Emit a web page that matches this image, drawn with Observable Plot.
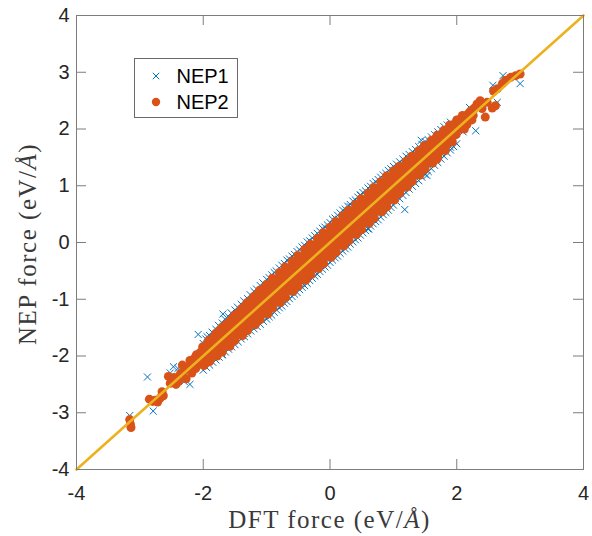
<!DOCTYPE html>
<html>
<head>
<meta charset="utf-8">
<script src="https://cdn.jsdelivr.net/npm/d3@7"></script>
<script src="https://cdn.jsdelivr.net/npm/@observablehq/plot@0.6"></script>
<style>
  html, body { margin: 0; padding: 0; background: #fff; }
</style>
</head>
<body>
<div id="chart"></div>
<script>
// ---- data ----
const seriesNames = ["NEP1", "NEP2"];
const seriesColors = ["#0072BD", "#D95319"];
const lineColor = "#EDB120";
const xTicks = [-4, -2, 0, 2, 4];
const yTicks = [-4, -3, -2, -1, 0, 1, 2, 3, 4];
const diagonal = [-4, 4];
const xTitle = ["DFT force (eV/", "Å", ")"];
const yTitle = ["NEP force (eV/", "Å", ")"];

// NEP1: [DFT force, NEP force] (blue crosses: outliers + visible fringe of the band)
const nep1 = [
  [-3.16,-3.05],[-2.88,-2.37],[-2.79,-2.97],[-2.47,-2.19],[-2.21,-2.50],[-2.08,-1.62],[-1.94,-1.66],
  [-1.69,-1.26],[-1.70,-1.98],[-1.35,-1.60],[-2.52,-2.30],[-2.40,-2.22],[-2.30,-2.45],
  [3.00,2.80],[2.73,2.94],[2.57,2.77],[2.64,2.47],[2.30,1.97],[1.44,1.80],[1.53,1.18],[1.90,1.68],
  [1.18,0.58],[0.61,0.24],[0.32,0.63],[0.48,0.83],[2.20,2.38],[2.10,1.95],
  // upper fringe
  [-2.00,-1.78],[-1.90,-1.64],[-1.80,-1.53],[-1.70,-1.42],[-1.60,-1.31],[-1.50,-1.19],[-1.40,-1.09],
  [-1.30,-0.99],[-1.20,-0.86],[-1.10,-0.76],[-1.00,-0.65],[-0.92,-0.57],[-0.85,-0.50],[-0.76,-0.40],
  [-0.68,-0.31],[-0.60,-0.24],[-0.52,-0.16],[-0.44,-0.08],[-0.36,0.01],[-0.28,0.08],[-0.20,0.16],
  [-0.12,0.25],[-0.04,0.31],[0.04,0.41],[0.12,0.48],[0.20,0.57],[0.28,0.64],[0.36,0.73],[0.44,0.80],
  [0.52,0.88],[0.60,0.96],[0.68,1.04],[0.76,1.11],[0.84,1.19],[0.92,1.27],[1.00,1.34],[1.10,1.42],
  [1.20,1.52],[1.30,1.60],[1.40,1.69],[1.50,1.78],[1.60,1.86],[1.70,1.95],[1.80,2.04],[1.90,2.12],
  [-1.96,-1.70],[-1.86,-1.58],[-1.76,-1.46],[-1.66,-1.35],[-1.56,-1.24],[-1.46,-1.14],[-1.36,-1.03],
  [-1.26,-0.92],[-1.16,-0.82],[-1.06,-0.71],[-0.96,-0.62],[-0.88,-0.53],[-0.80,-0.45],[-0.72,-0.37],
  [-0.64,-0.29],[-0.56,-0.21],[-0.48,-0.13],[-0.40,-0.05],[-0.32,0.03],[-0.24,0.12],[-0.16,0.20],
  [-0.08,0.27],[0.00,0.35],[0.08,0.43],[0.16,0.52],[0.24,0.59],[0.32,0.67],[0.40,0.75],[0.48,0.84],
  [0.56,0.91],[0.64,0.99],[0.72,1.07],[0.80,1.15],[0.88,1.22],[0.96,1.30],[1.05,1.38],[1.15,1.47],
  [1.25,1.55],[1.35,1.64],[1.45,1.73],[1.55,1.81],[1.65,1.90],[1.75,1.99],[1.85,2.07],
  // lower fringe
  [-2.00,-2.25],[-1.90,-2.16],[-1.80,-2.07],[-1.70,-1.97],[-1.60,-1.88],[-1.50,-1.80],[-1.40,-1.70],
  [-1.30,-1.61],[-1.20,-1.52],[-1.10,-1.44],[-1.00,-1.35],[-0.92,-1.28],[-0.84,-1.19],[-0.76,-1.12],
  [-0.68,-1.04],[-0.60,-0.95],[-0.52,-0.88],[-0.44,-0.79],[-0.36,-0.72],[-0.28,-0.63],[-0.20,-0.56],
  [-0.12,-0.47],[-0.04,-0.40],[0.04,-0.31],[0.12,-0.24],[0.20,-0.15],[0.28,-0.08],[0.36,0.01],
  [0.44,0.08],[0.52,0.17],[0.60,0.24],[0.68,0.33],[0.76,0.40],[0.84,0.49],[0.92,0.57],[1.00,0.66],
  [1.10,0.77],[1.20,0.88],[1.30,0.99],[1.40,1.09],[1.50,1.20],[1.60,1.30],[1.70,1.41],[1.80,1.52],
  [1.90,1.63],[2.00,1.74],
  [-1.95,-2.20],[-1.85,-2.11],[-1.75,-2.02],[-1.65,-1.93],[-1.55,-1.84],[-1.45,-1.75],[-1.35,-1.66],
  [-1.25,-1.56],[-1.15,-1.48],[-1.05,-1.39],[-0.96,-1.31],[-0.88,-1.23],[-0.80,-1.15],[-0.72,-1.07],
  [-0.64,-0.99],[-0.56,-0.91],[-0.48,-0.83],[-0.40,-0.76],[-0.32,-0.67],[-0.24,-0.59],[-0.16,-0.51],
  [-0.08,-0.43],[0.00,-0.35],[0.08,-0.27],[0.16,-0.19],[0.24,-0.11],[0.32,-0.03],[0.40,0.05],
  [0.48,0.13],[0.56,0.21],[0.64,0.29],[0.72,0.37],[0.80,0.45],[0.88,0.53],[0.96,0.62],[1.05,0.72],
  [1.15,0.83],[1.25,0.94],[1.35,1.04],[1.45,1.15],[1.55,1.25],[1.65,1.36],[1.75,1.47],[1.85,1.58],
  [1.95,1.69]
];

// NEP2: [DFT force, NEP force] (orange dots)
const nep2 = [
  [-3.16,-3.12],[-3.15,-3.20],[-3.14,-3.26],
  [-2.85,-2.76],[-2.80,-2.80],[-2.76,-2.78],[-2.72,-2.81],[-2.68,-2.74],[-2.65,-2.63],[-2.63,-2.70],
  [-2.55,-2.36],[-2.52,-2.48],[-2.50,-2.44],[-2.46,-2.38],[-2.43,-2.50],[-2.39,-2.45],[-2.36,-2.31],
  [-2.33,-2.16],[-2.30,-2.26],[-2.27,-2.40],[-2.25,-2.19],[-2.21,-2.08],[-2.18,-2.30],[-2.15,-2.05],[-2.16,-2.18],
  [-2.11,-1.98],[-2.09,-2.10],[-2.12,-2.22],
  [-2.01,-1.84],[-1.98,-1.95],[-2.02,-2.06],[-1.99,-2.17],
  [-1.91,-1.72],[-1.89,-1.83],[-1.92,-1.95],[-1.88,-2.06],[-1.90,-2.10],
  [-1.80,-1.60],[-1.82,-1.72],[-1.79,-1.84],[-1.81,-1.95],[-1.78,-2.00],
  [-1.71,-1.50],[-1.69,-1.62],[-1.72,-1.73],[-1.68,-1.85],[-1.70,-1.93],
  [-1.60,-1.40],[-1.62,-1.51],[-1.59,-1.63],[-1.61,-1.74],[-1.58,-1.83],
  [-1.51,-1.28],[-1.49,-1.40],[-1.52,-1.52],[-1.48,-1.63],[-1.50,-1.73],
  [-1.40,-1.17],[-1.42,-1.29],[-1.39,-1.41],[-1.41,-1.53],[-1.38,-1.64],
  [-1.31,-1.06],[-1.29,-1.18],[-1.32,-1.31],[-1.28,-1.43],[-1.30,-1.55],
  [-1.20,-0.95],[-1.22,-1.07],[-1.19,-1.20],[-1.21,-1.33],[-1.18,-1.45],
  [-1.11,-0.84],[-1.09,-0.97],[-1.12,-1.10],[-1.08,-1.23],[-1.10,-1.36],
  [-1.00,-0.74],[-1.02,-0.87],[-0.99,-1.00],[-1.01,-1.13],[-0.98,-1.26],
  [-0.91,-0.63],[-0.89,-0.76],[-0.92,-0.90],[-0.88,-1.03],[-0.90,-1.16],
  [-0.80,-0.53],[-0.82,-0.67],[-0.79,-0.79],[-0.81,-0.94],[-0.78,-1.06],
  [-0.71,-0.43],[-0.69,-0.57],[-0.72,-0.70],[-0.68,-0.83],[-0.70,-0.97],
  [-0.60,-0.33],[-0.62,-0.47],[-0.59,-0.60],[-0.61,-0.74],[-0.58,-0.86],
  [-0.51,-0.23],[-0.49,-0.36],[-0.52,-0.51],[-0.48,-0.63],[-0.50,-0.77],
  [-0.40,-0.12],[-0.42,-0.27],[-0.39,-0.40],[-0.41,-0.54],[-0.38,-0.66],
  [-0.31,-0.03],[-0.29,-0.16],[-0.32,-0.31],[-0.28,-0.43],[-0.30,-0.57],
  [-0.20,0.07],[-0.22,-0.07],[-0.19,-0.19],[-0.21,-0.34],[-0.18,-0.46],
  [-0.11,0.17],[-0.09,0.04],[-0.12,-0.11],[-0.08,-0.23],[-0.10,-0.37],
  [0.00,0.27],[-0.02,0.13],[0.01,0.00],[-0.01,-0.14],[0.02,-0.26],
  [0.09,0.37],[0.11,0.24],[0.08,0.10],[0.12,-0.03],[0.10,-0.17],
  [0.20,0.47],[0.18,0.33],[0.21,0.21],[0.19,0.06],[0.22,-0.06],
  [0.29,0.57],[0.31,0.44],[0.28,0.30],[0.32,0.17],[0.30,0.03],
  [0.40,0.67],[0.38,0.53],[0.41,0.41],[0.39,0.26],[0.42,0.14],
  [0.49,0.77],[0.51,0.64],[0.48,0.50],[0.52,0.37],[0.50,0.23],
  [0.60,0.87],[0.58,0.73],[0.61,0.61],[0.59,0.46],[0.62,0.34],
  [0.69,0.97],[0.71,0.84],[0.68,0.70],[0.72,0.57],[0.70,0.43],
  [0.80,1.07],[0.78,0.93],[0.81,0.81],[0.79,0.66],[0.82,0.54],
  [0.89,1.17],[0.91,1.04],[0.88,0.90],[0.92,0.77],[0.90,0.63],
  [1.00,1.26],[0.98,1.12],[1.01,1.01],[0.99,0.87],[1.02,0.75],
  [1.09,1.34],[1.11,1.22],[1.08,1.09],[1.12,0.98],[1.10,0.87],
  [1.20,1.43],[1.18,1.31],[1.21,1.21],[1.19,1.08],[1.22,0.98],
  [1.29,1.52],[1.31,1.41],[1.28,1.30],[1.32,1.19],[1.30,1.08],
  [1.40,1.62],[1.38,1.50],[1.41,1.41],[1.39,1.28],[1.42,1.19],
  [1.49,1.71],[1.51,1.60],[1.48,1.49],[1.52,1.39],[1.50,1.29],
  [1.60,1.80],[1.58,1.69],[1.61,1.60],[1.59,1.49],[1.62,1.40],
  [1.69,1.89],[1.71,1.80],[1.68,1.69],[1.72,1.59],[1.70,1.51],[1.69,1.47],
  [1.80,1.98],[1.78,1.88],[1.81,1.80],[1.79,1.69],[1.82,1.62],
  [1.89,2.07],[1.91,1.98],[1.88,1.89],[1.92,1.80],[1.93,1.77],
  [2.00,2.16],[1.98,2.06],[2.01,2.00],[1.99,1.90],
  [2.09,2.24],[2.11,2.15],[2.08,2.09],[2.12,2.00],
  [2.06,2.18],[2.01,2.12],[2.15,2.20],[2.19,2.28],[2.22,2.32],[2.24,2.16],[2.27,2.36],
  [2.32,2.44],[2.37,2.50],[2.40,2.36],[2.45,2.21],[2.48,2.47],[2.56,2.37],[2.61,2.41],
  [2.58,2.67],[2.64,2.71],[2.72,2.80],[2.77,2.86],[2.85,2.91],[2.93,2.94],[3.00,2.97],
  [1.80,1.97],[1.72,1.86],
  // points lying between the ones above
  [-2.05,-1.94],[-2.06,-2.04],[-2.04,-2.14],
  [-1.95,-1.80],[-1.96,-1.90],[-1.94,-2.01],[-1.95,-2.11],
  [-1.85,-1.68],[-1.86,-1.79],[-1.84,-1.90],[-1.85,-2.01],
  [-1.75,-1.56],[-1.76,-1.68],[-1.74,-1.80],[-1.75,-1.92],
  [-1.65,-1.45],[-1.66,-1.57],[-1.64,-1.69],[-1.65,-1.82],
  [-1.55,-1.35],[-1.56,-1.47],[-1.54,-1.59],[-1.55,-1.72],
  [-1.45,-1.24],[-1.46,-1.37],[-1.44,-1.49],[-1.45,-1.63],
  [-1.35,-1.13],[-1.36,-1.26],[-1.34,-1.39],[-1.35,-1.54],
  [-1.25,-1.02],[-1.26,-1.15],[-1.24,-1.30],[-1.25,-1.45],
  [-1.15,-0.91],[-1.16,-1.05],[-1.14,-1.20],[-1.15,-1.35],
  [-1.05,-0.81],[-1.06,-0.95],[-1.04,-1.10],[-1.05,-1.25],
  [-0.95,-0.74],[-0.96,-0.88],[-0.94,-1.01],[-0.95,-1.15],
  [-0.85,-0.65],[-0.86,-0.79],[-0.84,-0.91],[-0.85,-1.05],
  [-0.75,-0.55],[-0.76,-0.69],[-0.74,-0.81],[-0.75,-0.95],
  [-0.65,-0.45],[-0.66,-0.59],[-0.64,-0.71],[-0.65,-0.85],
  [-0.55,-0.35],[-0.56,-0.49],[-0.54,-0.61],[-0.55,-0.75],
  [-0.45,-0.25],[-0.46,-0.39],[-0.44,-0.51],[-0.45,-0.65],
  [-0.35,-0.15],[-0.36,-0.29],[-0.34,-0.41],[-0.35,-0.55],
  [-0.25,-0.05],[-0.26,-0.19],[-0.24,-0.31],[-0.25,-0.45],
  [-0.15,0.05],[-0.16,-0.09],[-0.14,-0.21],[-0.15,-0.35],
  [-0.05,0.15],[-0.06,0.01],[-0.04,-0.11],[-0.05,-0.25],
  [0.05,0.25],[0.04,0.12],[0.06,-0.01],[0.05,-0.15],
  [0.15,0.35],[0.14,0.22],[0.16,0.09],[0.15,-0.05],
  [0.25,0.45],[0.24,0.32],[0.26,0.19],[0.25,0.05],
  [0.35,0.55],[0.34,0.42],[0.36,0.29],[0.35,0.15],
  [0.45,0.65],[0.44,0.52],[0.46,0.39],[0.45,0.25],
  [0.55,0.75],[0.54,0.62],[0.56,0.49],[0.55,0.35],
  [0.65,0.85],[0.64,0.72],[0.66,0.59],[0.65,0.45],
  [0.75,0.95],[0.74,0.82],[0.76,0.69],[0.75,0.55],
  [0.85,1.05],[0.84,0.92],[0.86,0.79],[0.85,0.65],
  [0.95,1.15],[0.94,1.02],[0.96,0.89],[0.95,0.75],
  [1.05,1.25],[1.04,1.12],[1.06,0.99],[1.05,0.85],
  [1.15,1.34],[1.14,1.22],[1.16,1.10],[1.15,0.97],
  [1.25,1.43],[1.24,1.31],[1.26,1.20],[1.25,1.08],
  [1.35,1.52],[1.34,1.41],[1.36,1.30],[1.35,1.19],
  [1.45,1.61],[1.44,1.50],[1.46,1.40],[1.45,1.29],
  [1.55,1.70],[1.54,1.60],[1.56,1.50],[1.55,1.40],
  [1.65,1.80],[1.64,1.70],[1.66,1.60],[1.65,1.51],
  [1.75,1.89],[1.74,1.80],[1.76,1.70],[1.75,1.62],
  [1.85,1.98],[1.84,1.89],[1.86,1.80],[1.85,1.73],
  [1.95,2.07],[1.94,1.98],[1.96,1.90],
  [2.05,2.15],[2.04,2.07],[2.06,2.00],
  [2.15,2.24],[2.14,2.15],[2.16,2.08],
  [2.25,2.30],[2.26,2.24]
];

// ---- build the chart ----
const toRows = (arr, name) => arr.map(([dft, nep]) => ({dft, nep, series: name}));
const rows1 = toRows(nep1, seriesNames[0]);
const rows2 = toRows(nep2, seriesNames[1]);
const diagRows = diagonal.map(v => ({dft: v, nep: v}));

const W = 592, H = 536, mL = 76, mR = 9, mT = 15, mB = 67;
const xDomain = [-4, 4], yDomain = [-4, 4];
const tickPx = 10;
// inward tick length expressed in data units of each axis
const tickLenX = tickPx * (xDomain[1] - xDomain[0]) / (W - mL - mR);
const tickLenY = tickPx * (yDomain[1] - yDomain[0]) / (H - mT - mB);

const axisColor = "#7d7d7d";
const tickTextColor = "#262626";
const fmt = d => String(d);

const chart = Plot.plot({
  width: W,
  height: H,
  marginLeft: mL,
  marginRight: mR,
  marginTop: mT,
  marginBottom: mB,
  x: {domain: xDomain},
  y: {domain: yDomain},
  style: {fontFamily: "'Liberation Sans', Arial, Helvetica, sans-serif", fontSize: "20px", background: "#fff", color: tickTextColor},
  marks: [
    Plot.dot(rows1, {x: "dft", y: "nep", symbol: "times", r: 3.3, stroke: seriesColors[0], strokeWidth: 1}),
    Plot.dot(rows2, {x: "dft", y: "nep", r: 4.5, fill: seriesColors[1], stroke: "none"}),
    Plot.line(diagRows, {x: "dft", y: "nep", stroke: lineColor, strokeWidth: 2.6}),
    Plot.frame({stroke: axisColor, strokeWidth: 1}),
    // tick labels
    Plot.axisX(xTicks, {anchor: "bottom", tickSize: 0, tickPadding: 16, tickFormat: fmt, label: null, fontSize: 20, fill: tickTextColor}),
    Plot.axisY(yTicks, {anchor: "left", tickSize: 0, tickPadding: 7, tickFormat: fmt, label: null, fontSize: 20, fill: tickTextColor}),
    // inward tick marks on all four sides
    Plot.ruleX(xTicks, {x: d => d, y1: yDomain[0], y2: yDomain[0] + tickLenY, stroke: axisColor}),
    Plot.ruleX(xTicks, {x: d => d, y1: yDomain[1], y2: yDomain[1] - tickLenY, stroke: axisColor}),
    Plot.ruleY(yTicks, {y: d => d, x1: xDomain[0], x2: xDomain[0] + tickLenX, stroke: axisColor}),
    Plot.ruleY(yTicks, {y: d => d, x1: xDomain[1], x2: xDomain[1] - tickLenX, stroke: axisColor})
  ]
});

document.getElementById("chart").appendChild(chart);

// ---- axis titles (serif, italic Å) and legend ----
const svg = d3.select(chart);
const cx = (mL + (W - mR)) / 2, cy = (mT + (H - mB)) / 2;
const titleFont = "'Liberation Serif', 'DejaVu Serif', serif";

function addTitle(parts, transform) {
  const t = svg.append("text")
    .attr("transform", transform)
    .attr("text-anchor", "middle")
    .attr("font-family", titleFont)
    .attr("font-size", 25)
    .attr("letter-spacing", 1.5)
    .attr("fill", "#3a3a3a");
  parts.forEach((p, i) => t.append("tspan").attr("font-style", i === 1 ? "italic" : "normal").text(p));
}
addTitle(xTitle, `translate(${cx},${H - 8})`);
addTitle(yTitle, `translate(36,${cy + 2}) rotate(-90)`);

const lg = svg.append("g").attr("transform", "translate(134.5,58.5)");
lg.append("rect").attr("width", 103).attr("height", 59).attr("fill", "#fff").attr("stroke", "#6a6a6a").attr("stroke-width", 1);
seriesNames.forEach((name, i) => {
  const yy = 17.5 + i * 26;
  if (i === 0) {
    lg.append("path").attr("transform", `translate(21.5,${yy})`)
      .attr("d", d3.symbol(d3.symbolTimes, Math.PI * 3 * 3)())
      .attr("fill", "none").attr("stroke", seriesColors[0]).attr("stroke-width", 1);
  } else {
    lg.append("circle").attr("cx", 21.5).attr("cy", yy).attr("r", 4.2).attr("fill", seriesColors[1]);
  }
  lg.append("text").attr("x", 42).attr("y", yy).attr("dy", "0.36em")
    .attr("text-anchor", "start")
    .attr("font-family", "'Liberation Sans', Arial, Helvetica, sans-serif")
    .attr("font-size", 20).attr("fill", "#000").text(name);
});
</script>
</body>
</html>
